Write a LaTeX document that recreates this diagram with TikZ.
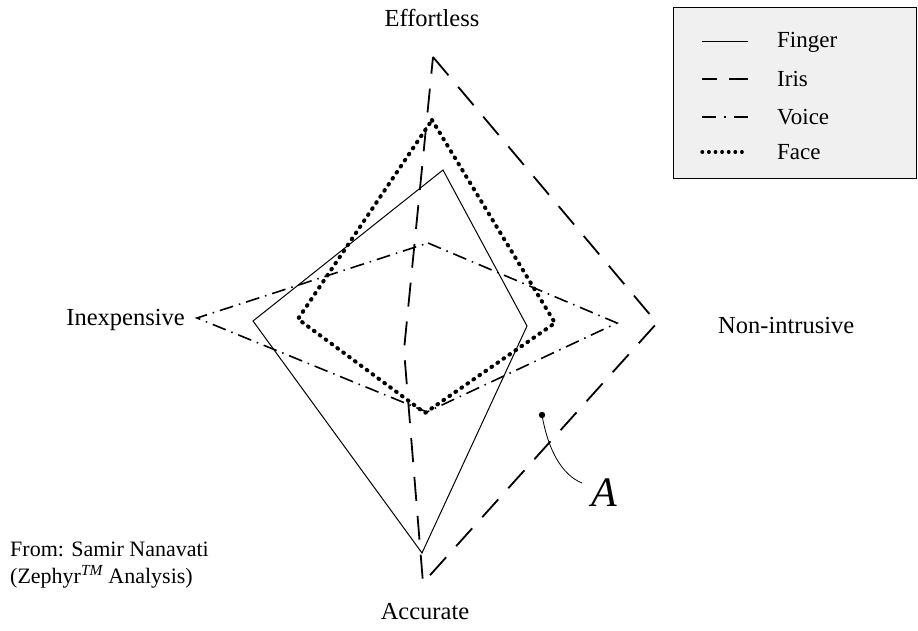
\documentclass[tikz,border=0pt]{standalone}
\usepackage{fontspec}
\setmainfont{Liberation Serif}
\begin{document}
\begin{tikzpicture}[
  x=1pt, y=-1pt,
  finger/.style={line width=1pt, line join=miter},
  iris/.style={line width=1.8pt, dash pattern=on 24pt off 15pt},
  voice/.style={line width=1.6pt, dash pattern=on 14pt off 6pt on 1.5pt off 6pt},
  face/.style={line width=4pt, line cap=round, dash pattern=on 0.8pt off 6.5pt},
  axislabel/.style={font=\fontsize{24.5}{28}\selectfont, inner sep=0pt},
  legendtext/.style={font=\fontsize{23}{27}\selectfont, anchor=west, inner sep=0pt}
]
\useasboundingbox (0,0) rectangle (918,631);

% Axis labels
\node[axislabel] (effortless) at (432,18) {Effortless};
\node[axislabel, anchor=west] (nonintrusive) at (718,326) {Non-intrusive};
\node[axislabel, anchor=east] (inexpensive) at (185,320) {Inexpensive};
\node[axislabel] (accurate) at (425,612) {Accurate};

% Finger
\draw[finger] (443,170) -- (527,326) -- (422,553) -- (253,321) -- cycle;
% Iris
\draw[iris] (433,57) -- (657,323) -- (423,583) -- (404,350) -- cycle;
% Voice
\draw[voice] (428,243) -- (617,323) -- (427,412) -- (197,318) -- cycle;
% Face
\draw[face] (432,120) -- (555,323) -- (425,413) -- (298,319) -- cycle;

% Region A
\coordinate (adot) at (542,415);
\fill (adot) circle (3.2pt);
\node[font=\fontsize{42}{46}\selectfont\itshape, inner sep=0pt] (alabel) at (604,493) {A};
\draw[line width=0.8pt] (adot) .. controls (548,450) and (562,475) .. (582,483);

% Legend
\node[draw, line width=1.3pt, fill=gray!12, minimum width=243pt, minimum height=171pt,
  anchor=north west, inner sep=0pt] (legend) at (673,7) {};
\draw[finger] (702,42) -- (748,42);
\node[legendtext] (lfinger) at (777,42) {Finger};
\draw[line width=1.8pt] (702,79) -- (717,79) (729,79) -- (748,79);
\node[legendtext] (liris) at (777,79) {Iris};
\draw[line width=1.6pt] (702,117) -- (716,117) (724,117) -- (726,117) (734,117) -- (748,117);
\node[legendtext] (lvoice) at (777,117) {Voice};
\draw[line width=3.2pt, line cap=round, dash pattern=on 0.6pt off 6pt] (702,152) -- (748,152);
\node[legendtext] (lface) at (777,152) {Face};

% Source
\node[axislabel, font=\fontsize{22}{26}\selectfont, anchor=west] (source1) at (10,549) {From: Samir Nanavati};
\node[axislabel, font=\fontsize{22}{26}\selectfont, anchor=west] (source2) at (10,577) {(Zephyr\textsuperscript{\itshape TM} Analysis)};

\end{tikzpicture}
\end{document}
